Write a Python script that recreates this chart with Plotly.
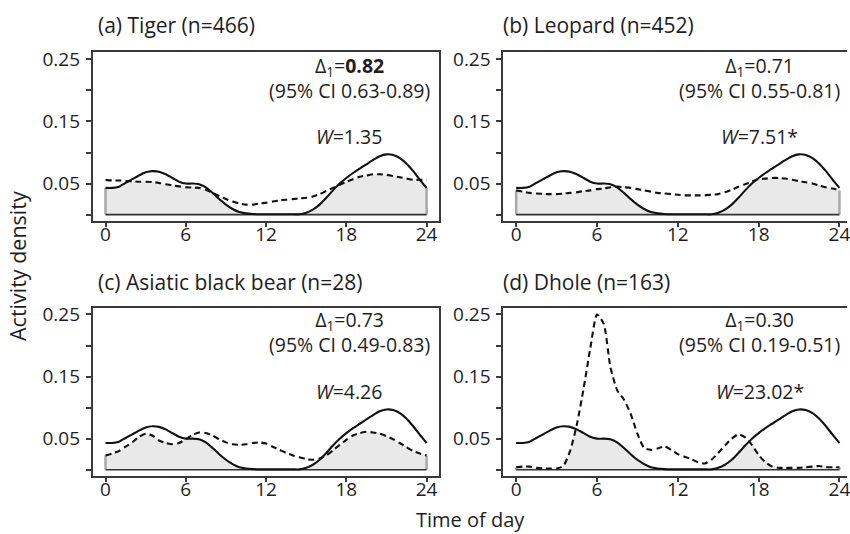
import numpy as np
import plotly.graph_objects as go

# ---- data (activity density vs time of day, 0.5 h steps) ----
hours = [i * 0.5 for i in range(49)]

reference_solid = [0.043, 0.043, 0.045, 0.051, 0.057, 0.063, 0.068, 0.070, 0.069, 0.065,
                   0.059, 0.053, 0.050, 0.050, 0.049, 0.044, 0.035, 0.025, 0.016, 0.009,
                   0.004, 0.002, 0.001, 0.0005, 0.0005, 0.0005, 0.0005, 0.0005, 0.0005, 0.0005,
                   0.003, 0.008, 0.016, 0.027, 0.039, 0.050, 0.059, 0.067, 0.074, 0.081,
                   0.088, 0.094, 0.097, 0.096, 0.091, 0.082, 0.070, 0.056, 0.043]

tiger = [0.056, 0.055, 0.055, 0.054, 0.0535, 0.053, 0.053, 0.0525, 0.051, 0.049,
         0.047, 0.0455, 0.044, 0.0435, 0.043, 0.040, 0.035, 0.030, 0.025, 0.021,
         0.018, 0.016, 0.016, 0.018, 0.019, 0.021, 0.023, 0.024, 0.025, 0.026,
         0.027, 0.029, 0.033, 0.038, 0.043, 0.048, 0.053, 0.057, 0.061, 0.063,
         0.065, 0.065, 0.064, 0.062, 0.060, 0.058, 0.056, 0.056, 0.056]

leopard = [0.039, 0.037, 0.035, 0.034, 0.0335, 0.033, 0.033, 0.034, 0.035, 0.036,
           0.038, 0.039, 0.041, 0.042, 0.044, 0.045, 0.044, 0.043, 0.041, 0.039,
           0.037, 0.035, 0.034, 0.033, 0.032, 0.031, 0.031, 0.031, 0.031, 0.032,
           0.033, 0.036, 0.040, 0.045, 0.049, 0.053, 0.057, 0.058, 0.059, 0.059,
           0.058, 0.056, 0.054, 0.052, 0.050, 0.047, 0.044, 0.042, 0.039]

bear = [0.023, 0.026, 0.030, 0.037, 0.044, 0.053, 0.058, 0.055, 0.047, 0.043,
        0.041, 0.043, 0.049, 0.056, 0.060, 0.059, 0.055, 0.049, 0.044, 0.041,
        0.040, 0.041, 0.043, 0.044, 0.042, 0.037, 0.032, 0.027, 0.023, 0.020,
        0.017, 0.016, 0.018, 0.023, 0.031, 0.040, 0.048, 0.055, 0.059, 0.061,
        0.060, 0.058, 0.054, 0.049, 0.043, 0.036, 0.030, 0.026, 0.023]

dhole = [0.004, 0.005, 0.005, 0.003, 0.002, 0.002, 0.002, 0.006, 0.030, 0.072,
         0.130, 0.195, 0.250, 0.235, 0.165, 0.128, 0.113, 0.090, 0.058, 0.035,
         0.032, 0.034, 0.038, 0.032, 0.025, 0.021, 0.017, 0.012, 0.010, 0.016,
         0.027, 0.039, 0.050, 0.057, 0.052, 0.040, 0.024, 0.012, 0.005, 0.003,
         0.003, 0.003, 0.003, 0.004, 0.005, 0.006, 0.004, 0.004, 0.004]

panel_titles = ["(a) Tiger (n=466)", "(b) Leopard (n=452)",
                "(c) Asiatic black bear (n=28)", "(d) Dhole (n=163)"]
delta_texts = ["Δ<sub>1</sub>=<b>0.82</b>", "Δ<sub>1</sub>=0.71",
               "Δ<sub>1</sub>=0.73", "Δ<sub>1</sub>=0.30"]
ci_texts = ["(95% CI 0.63-0.89)", "(95% CI 0.55-0.81)",
            "(95% CI 0.49-0.83)", "(95% CI 0.19-0.51)"]
w_texts = ["<i>W</i>=1.35", "<i>W</i>=7.51*", "<i>W</i>=4.26", "<i>W</i>=23.02*"]
species = [tiger, leopard, bear, dhole]

x_ticks = [0, 6, 12, 18, 24]
y_ticks = [0.05, 0.15, 0.25]
y_minor_ticks = [0, 0.10, 0.20]

# ---- layout geometry ----
W, H = 850, 534
x_domains = [[93 / W, 441 / W], [505 / W, 1.0]]
x_ranges = [[-0.96, 24.96], [-0.96, 24.56]]
y_domains = [[(H - 217) / H, (H - 47) / H], [(H - 475) / H, (H - 305) / H]]
y_range = [-0.0096, 0.2611]

FONT = "Open Sans"
AX = "#3a3a3a"
TXT = "#1e1e1e"

fig = go.Figure()
layout = dict(width=W, height=H, margin=dict(l=0, r=0, t=0, b=0),
              paper_bgcolor="white", plot_bgcolor="white", showlegend=False,
              font=dict(family=FONT, color=TXT), annotations=[])

sol = np.array(reference_solid)
hrs = np.array(hours)
for i, dashed in enumerate(species):
    row, col = divmod(i, 2)
    n = i + 1
    xa = "x" if n == 1 else f"x{n}"
    ya = "y" if n == 1 else f"y{n}"
    d = np.array(dashed)
    overlap = np.minimum(sol, d)

    fig.add_trace(go.Scatter(x=hrs, y=overlap, mode="lines", fill="tozeroy",
                             fillcolor="#e9e9e9", line=dict(width=0, shape="spline", smoothing=0.6),
                             xaxis=xa, yaxis=ya, hoverinfo="skip"))
    # edge bars at 0 h and 24 h
    for k in (0, -1):
        fig.add_trace(go.Scatter(x=[hrs[k], hrs[k]], y=[0, overlap[k]], mode="lines",
                                 line=dict(color="#a8a8a8", width=2.5),
                                 xaxis=xa, yaxis=ya, hoverinfo="skip"))
    # baseline
    fig.add_trace(go.Scatter(x=[hrs[0], hrs[-1]], y=[0, 0], mode="lines",
                             line=dict(color="#333333", width=1.6),
                             xaxis=xa, yaxis=ya, hoverinfo="skip"))
    fig.add_trace(go.Scatter(x=hrs, y=d, mode="lines",
                             line=dict(color="#111111", width=2.1, dash="6px,4px",
                                       shape="spline", smoothing=0.6),
                             xaxis=xa, yaxis=ya))
    fig.add_trace(go.Scatter(x=hrs, y=sol, mode="lines",
                             line=dict(color="#111111", width=2.1, shape="spline", smoothing=0.6),
                             xaxis=xa, yaxis=ya))

    xkey = "xaxis" if n == 1 else f"xaxis{n}"
    ykey = "yaxis" if n == 1 else f"yaxis{n}"
    layout[xkey] = dict(domain=x_domains[col], range=x_ranges[col], anchor=ya,
                        tickvals=x_ticks, ticktext=[str(t) for t in x_ticks],
                        ticks="outside", ticklen=5, tickwidth=1.5, tickcolor=AX,
                        ticklabeloverflow="allow", ticklabelstandoff=-9,
                        showline=True, linecolor=AX, linewidth=1.6, mirror=True,
                        showgrid=False, zeroline=False,
                        tickfont=dict(family=FONT, size=19, color=TXT))
    layout[ykey] = dict(domain=y_domains[row], range=y_range, anchor=xa,
                        tickvals=y_ticks, ticktext=[f"{v:.2f}" for v in y_ticks],
                        ticks="outside", ticklen=5, tickwidth=1.5, tickcolor=AX,
                        ticklabelstandoff=2,
                        minor=dict(tickvals=y_minor_ticks, ticks="outside", ticklen=5,
                                   tickwidth=1.5, tickcolor=AX, showgrid=False),
                        showline=True, linecolor=AX, linewidth=1.6,
                        mirror=(col == 0),
                        showgrid=False, zeroline=False,
                        tickfont=dict(family=FONT, size=19, color=TXT))

    # panel title
    layout["annotations"].append(dict(
        text=panel_titles[i], xref="paper", yref="paper",
        x=(96 if col == 0 else 503) / W, y=(H - (19 if row == 0 else 279)) / H,
        xanchor="left", yanchor="middle", showarrow=False,
        font=dict(family=FONT, size=21, color=TXT)))
    # statistics text
    xs = 18.2 if col == 0 else 18.1
    y_dci = 0.220 if row == 0 else 0.2225
    y_w = 0.125 if row == 0 else 0.126
    layout["annotations"].append(dict(
        text=delta_texts[i] + "<br>" + ci_texts[i], xref=xa, yref=ya, x=xs, y=y_dci,
        xanchor="center", yanchor="middle", align="center", showarrow=False,
        font=dict(family=FONT, size=19.5, color=TXT)))
    layout["annotations"].append(dict(
        text=w_texts[i], xref=xa, yref=ya, x=xs, y=y_w, xanchor="center", yanchor="middle",
        showarrow=False, font=dict(family=FONT, size=19.5, color=TXT)))

layout["annotations"].append(dict(
    text="Activity density", xref="paper", yref="paper", x=17 / W, y=(H - 263) / H,
    xanchor="center", yanchor="middle", textangle=-90, showarrow=False,
    font=dict(family=FONT, size=21.5, color=TXT)))
layout["annotations"].append(dict(
    text="Time of day", xref="paper", yref="paper", x=472 / W, y=(H - 519) / H,
    xanchor="center", yanchor="middle", showarrow=False,
    font=dict(family=FONT, size=20, color=TXT)))

fig.update_layout(**layout)
fig.write_html("out.html")
